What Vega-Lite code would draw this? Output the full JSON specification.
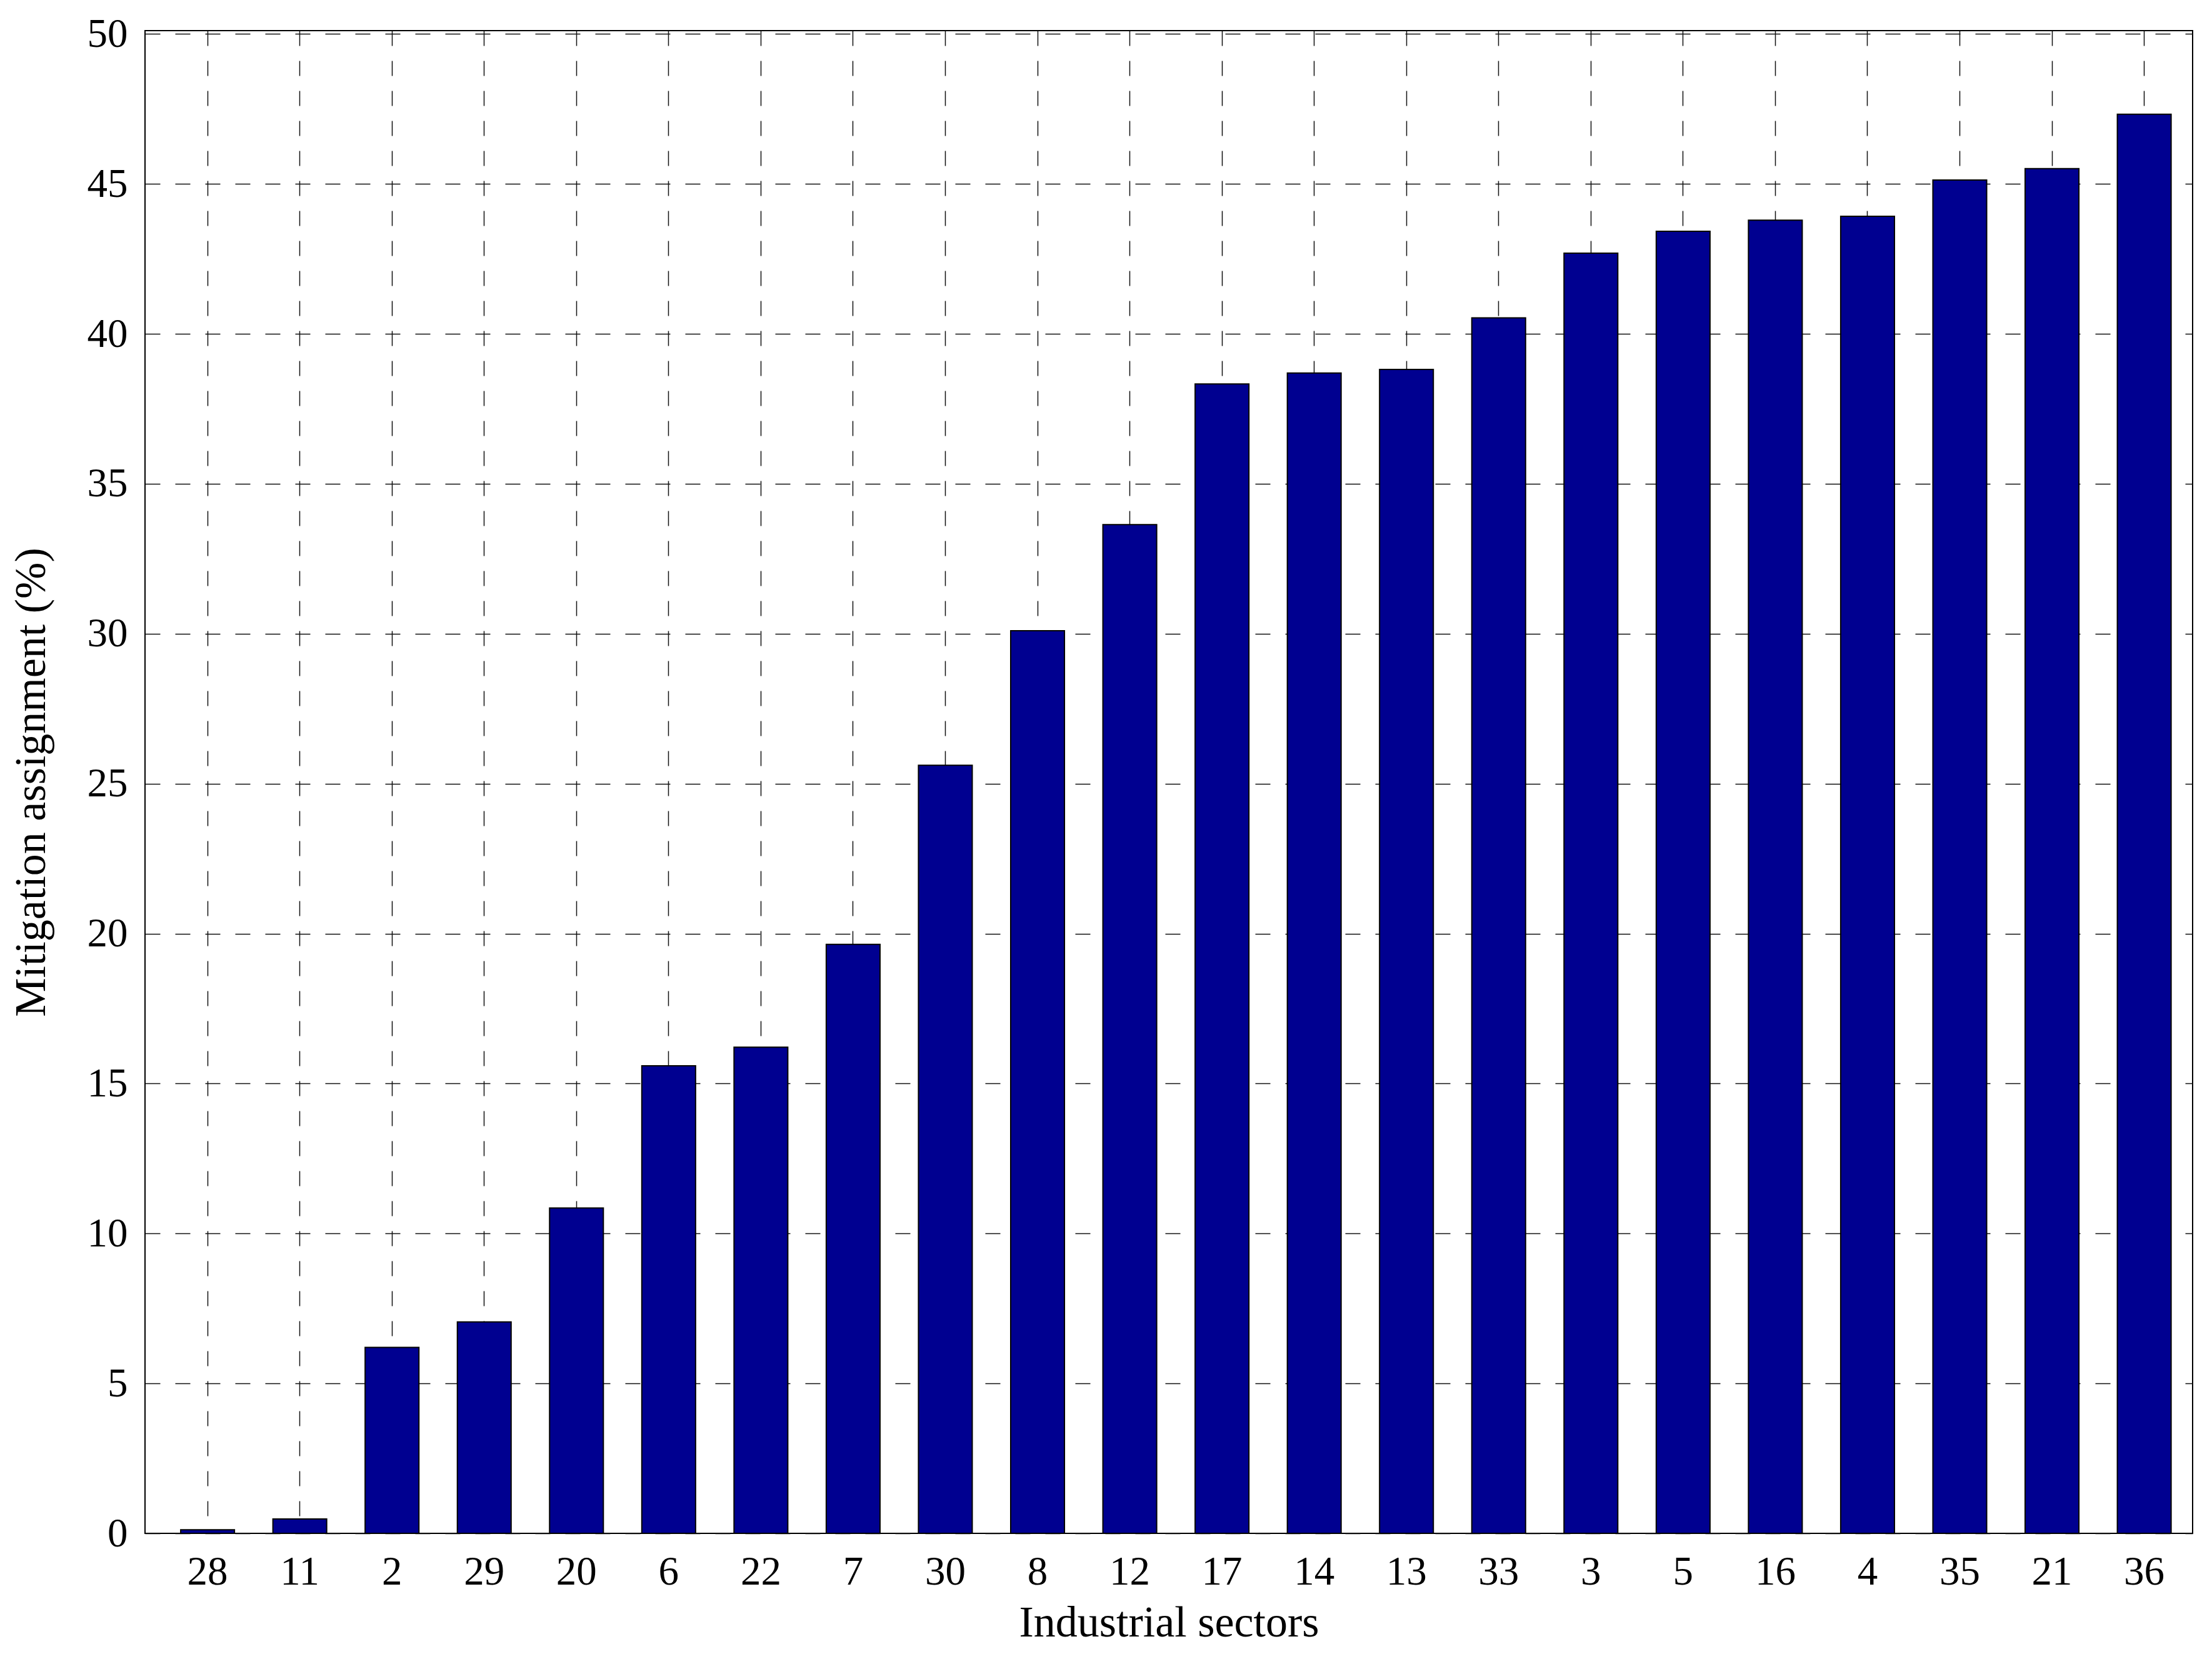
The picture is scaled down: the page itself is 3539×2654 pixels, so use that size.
{
  "$schema": "https://vega.github.io/schema/vega-lite/v6.json",
  "autosize": {"type": "none"},
  "width": 3276,
  "height": 2404,
  "padding": {"left": 232, "top": 49, "right": 31, "bottom": 201},
  "background": "white",
  "config": {
    "view": {"stroke": "black", "strokeWidth": 2},
    "font": "Liberation Serif",
    "axis": {
      "labelFont": "Liberation Serif",
      "titleFont": "Liberation Serif",
      "labelFontSize": 65,
      "titleFontSize": 70,
      "labelColor": "black",
      "titleColor": "black",
      "titleFontWeight": "normal",
      "domain": false,
      "ticks": false,
      "grid": true,
      "gridColor": "#111111",
      "gridWidth": 1.5,
      "gridDash": [24, 24],
      "gridOpacity": 1
    }
  },
  "data": {
    "values": [
      {"sector": "28", "value": 0.12},
      {"sector": "11", "value": 0.48},
      {"sector": "2", "value": 6.2},
      {"sector": "29", "value": 7.05},
      {"sector": "20", "value": 10.85},
      {"sector": "6", "value": 15.59},
      {"sector": "22", "value": 16.21},
      {"sector": "7", "value": 19.64},
      {"sector": "30", "value": 25.61},
      {"sector": "8", "value": 30.1},
      {"sector": "12", "value": 33.64},
      {"sector": "17", "value": 38.33},
      {"sector": "14", "value": 38.69},
      {"sector": "13", "value": 38.81},
      {"sector": "33", "value": 40.53},
      {"sector": "3", "value": 42.69},
      {"sector": "5", "value": 43.42},
      {"sector": "16", "value": 43.79},
      {"sector": "4", "value": 43.92},
      {"sector": "35", "value": 45.13},
      {"sector": "21", "value": 45.51},
      {"sector": "36", "value": 47.32}
    ]
  },
  "mark": {"type": "bar", "color": "#000090", "stroke": "black", "strokeWidth": 2},
  "encoding": {
    "x": {
      "field": "sector",
      "type": "nominal",
      "sort": null,
      "scale": {"paddingInner": 0.4168, "paddingOuter": 0.31, "align": 0.624},
      "axis": {
        "title": "Industrial sectors",
        "labelAngle": 0,
        "labelPadding": 30,
        "titlePadding": 15,
        "bandPosition": 0.5
      }
    },
    "y": {
      "field": "value",
      "type": "quantitative",
      "scale": {"domain": [0, 50.11], "nice": false, "zero": true},
      "axis": {
        "title": "Mitigation assignment (%)",
        "values": [0, 5, 10, 15, 20, 25, 30, 35, 40, 45, 50],
        "labelPadding": 28,
        "titlePadding": 53
      }
    }
  }
}
